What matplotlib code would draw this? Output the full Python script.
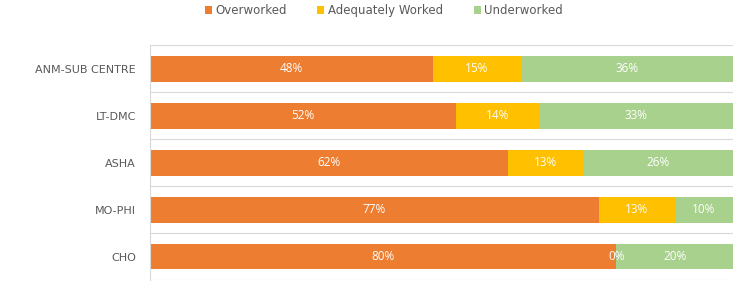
import numpy as np
import matplotlib.pyplot as plt

# data (top to bottom)
categories = ["ANM-SUB CENTRE", "LT-DMC", "ASHA", "MO-PHI", "CHO"]
overworked = [48, 52, 62, 77, 80]
adequate = [15, 14, 13, 13, 0]
underworked = [36, 33, 26, 10, 20]

series = [("Overworked", overworked, "#ED7D31"),
          ("Adequately Worked", adequate, "#FFC000"),
          ("Underworked", underworked, "#A9D18E")]

fig = plt.figure(figsize=(7.44, 2.88), dpi=100)
ax = fig.add_axes([150 / 744, 8 / 288, 583 / 744, 234.5 / 288])

totals = np.array(overworked) + np.array(adequate) + np.array(underworked)
y = np.arange(len(categories))
left = np.zeros(len(categories))
for name, vals, col in series:
    frac = np.array(vals) / totals
    ax.barh(y, frac, left=left, height=0.55, color=col, label=name)
    for yi, l, f, v in zip(y, left, frac, vals):
        ax.text(l + f / 2, yi, f"{v}%", ha="center", va="center",
                color="white", fontsize=8.5, fontfamily="Open Sans")
    left += frac

ax.set_xlim(0, 1)
ax.set_ylim(len(categories) - 0.5, -0.5)
ax.set_yticks(y)
ax.set_yticklabels(categories, fontsize=8, color="#595959")
ax.tick_params(axis="y", length=0, pad=10)
ax.set_xticks([])
for b in np.arange(-0.5, len(categories), 1):
    ax.axhline(b, color="#D9D9D9", lw=0.8, zorder=0)
for s in ["top", "right", "bottom"]:
    ax.spines[s].set_visible(False)
ax.spines["left"].set_color("#D9D9D9")

fig.legend(loc="upper center", bbox_to_anchor=(0.516, 1.022), ncol=3, frameon=False,
           fontsize=8.5, handlelength=0.6, handleheight=0.6, handletextpad=0.3,
           columnspacing=2.6, labelcolor="#595959")

fig.savefig("out.png", dpi=100)
